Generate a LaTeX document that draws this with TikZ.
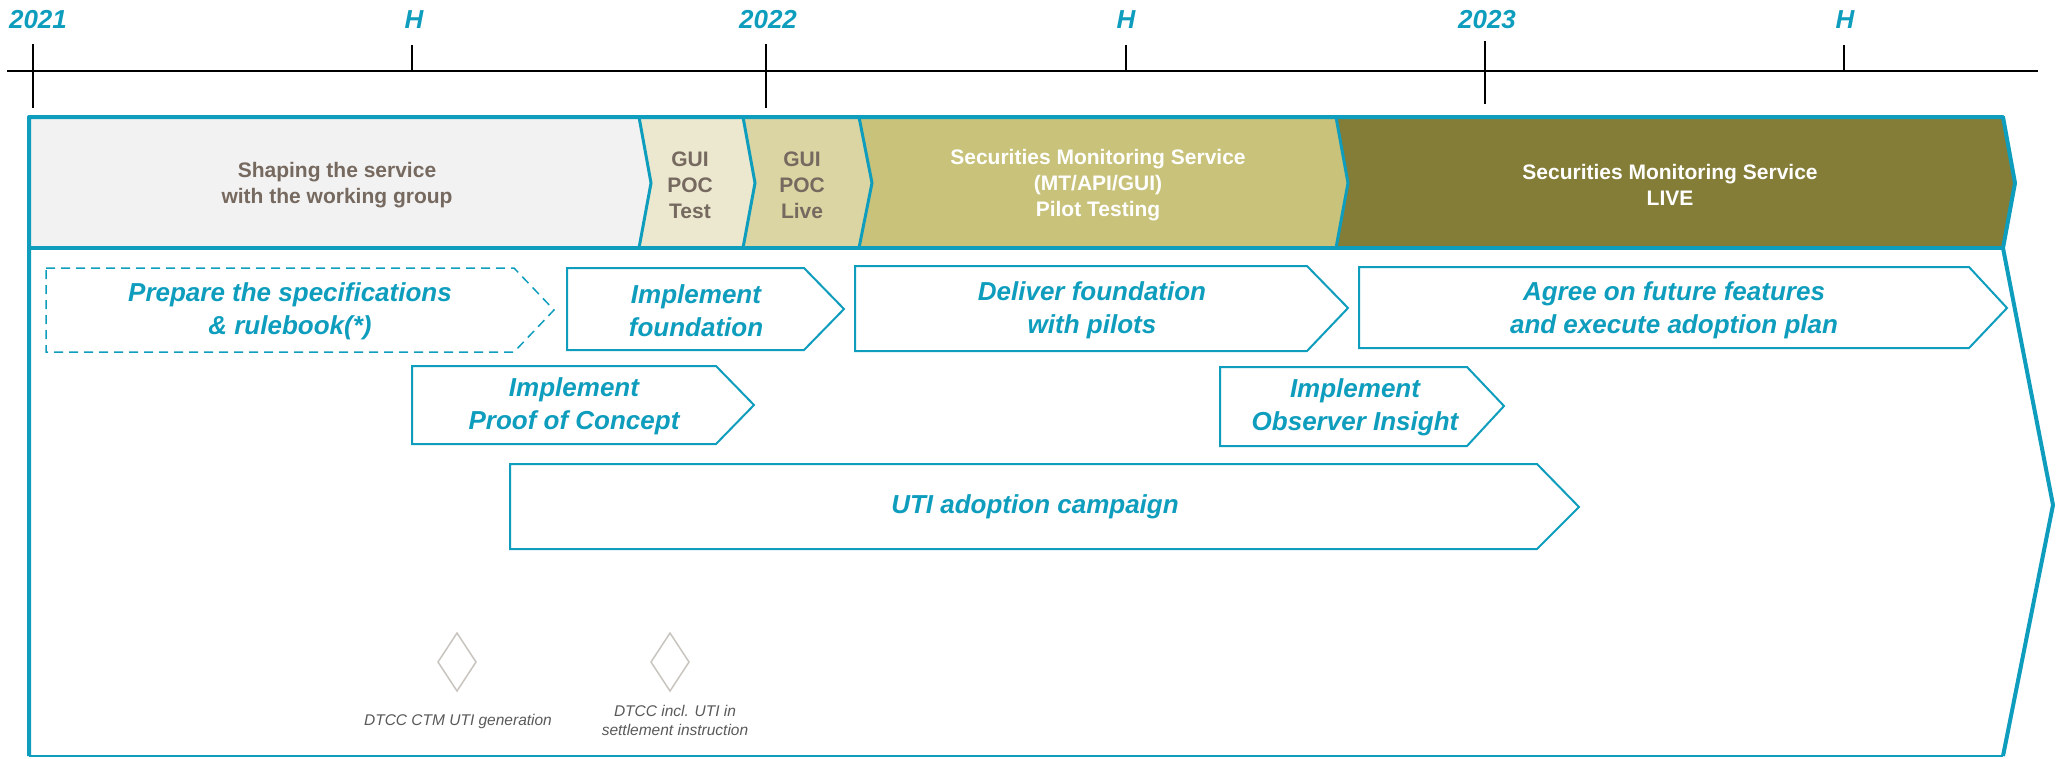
\documentclass[tikz,border=0pt]{standalone}
\usepackage{fontspec}
\setmainfont{Liberation Sans}
\definecolor{tealc}{HTML}{0E9DBD}
\definecolor{seggray}{HTML}{F2F2F2}
\definecolor{segA}{HTML}{EBE8CF}
\definecolor{segB}{HTML}{DBD5A3}
\definecolor{segC}{HTML}{C8C27A}
\definecolor{segD}{HTML}{847D37}
\definecolor{txtgray}{HTML}{76695F}
\definecolor{dgray}{HTML}{595959}
\definecolor{diagray}{HTML}{C8C4BF}
\begin{document}
\begin{tikzpicture}[x=1pt,y=-1pt,
 yearlbl/.style={font=\fontsize{26}{30}\selectfont\bfseries\itshape, text=tealc, inner sep=0},
 bandtxt/.style={font=\fontsize{21}{26}\selectfont\bfseries, align=center, inner sep=0},
 arrowtxt/.style={font=\fontsize{26}{33}\selectfont\bfseries\itshape, text=tealc, align=center, inner sep=0},
 arrowbox/.style={draw=tealc, line width=2pt, fill=white, line join=miter},
 segdiv/.style={draw=tealc, line width=3pt},
 tickline/.style={draw=black, line width=1.3pt},
 smalltxt/.style={font=\fontsize{15.5}{19}\selectfont\itshape, text=dgray, align=center, inner sep=0},
 milestone/.style={draw=diagray, line width=1.5pt},
 ]
\useasboundingbox (0,0) rectangle (2060,758);

% timeline
\draw[line width=2pt] (7,71) -- (2038,71);
\draw[tickline] (33,44) -- (33,108);
\draw[tickline] (412,45) -- (412,71);
\draw[tickline] (766,44) -- (766,108);
\draw[tickline] (1126,45) -- (1126,71);
\draw[tickline] (1485,41) -- (1485,104);
\draw[tickline] (1844,45) -- (1844,71);
\node[yearlbl] (y21) at (38,20) {2021};
\node[yearlbl] (h21) at (414,20) {H};
\node[yearlbl] (y22) at (768,20) {2022};
\node[yearlbl] (h22) at (1126,20) {H};
\node[yearlbl] (y23) at (1487,20) {2023};
\node[yearlbl] (h23) at (1845,20) {H};

% band segments
\fill[seggray] (29,117) -- (639,117) -- (651,183) -- (639,248) -- (29,248) -- cycle;
\fill[segA] (639,117) -- (743,117) -- (755,183) -- (743,248) -- (639,248) -- (651,183) -- cycle;
\fill[segB] (743,117) -- (859,117) -- (872,183) -- (859,248) -- (743,248) -- (755,183) -- cycle;
\fill[segC] (859,117) -- (1336,117) -- (1348,183) -- (1336,248) -- (859,248) -- (872,183) -- cycle;
\fill[segD] (1336,117) -- (2003,117) -- (2015,183) -- (2003,248) -- (1336,248) -- (1348,183) -- cycle;
\draw[segdiv] (639,117) -- (651,183) -- (639,248);
\draw[segdiv] (743,117) -- (755,183) -- (743,248);
\draw[segdiv] (859,117) -- (872,183) -- (859,248);
\draw[segdiv] (1336,117) -- (1348,183) -- (1336,248);

% outer frame
\draw[tealc, line width=4pt, line join=round] (29,756) -- (29,117) -- (2003,117) -- (2015,183) -- (2003,248) -- (2053,505) -- (2003,756);
\draw[tealc, line width=2pt] (29,756) -- (2003,756);
\draw[tealc, line width=4pt] (29,248) -- (2003,248);

\node[bandtxt, text=txtgray] (shape) at (337,185) {Shaping the service\\with the working group};
\node[bandtxt, text=txtgray] (guitest) at (690,185) {GUI\\POC\\Test};
\node[bandtxt, text=txtgray] (guilive) at (802,185) {GUI\\POC\\Live};
\node[bandtxt, text=white] (pilot) at (1098,185) {Securities Monitoring Service\\(MT/API/GUI)\\Pilot Testing};
\node[bandtxt, text=white] (live) at (1670,185) {Securities Monitoring Service\\LIVE};

% activity arrows
\draw[draw=tealc, line width=1.5pt, dash pattern=on 9pt off 6pt] (46,268) -- (514,268) -- (554,310) -- (514,352) -- (46,352) -- cycle;
\draw[arrowbox] (567,268) -- (804,268) -- (844,309) -- (804,350) -- (567,350) -- cycle;
\draw[arrowbox] (412,366) -- (716,366) -- (754,405) -- (716,444) -- (412,444) -- cycle;
\draw[arrowbox] (510,464) -- (1537,464) -- (1579,507) -- (1537,549) -- (510,549) -- cycle;
\draw[arrowbox] (855,266) -- (1307,266) -- (1348,308) -- (1307,351) -- (855,351) -- cycle;
\draw[arrowbox] (1359,267) -- (1969,267) -- (2007,308) -- (1969,348) -- (1359,348) -- cycle;
\draw[arrowbox] (1220,367) -- (1467,367) -- (1504,406) -- (1467,446) -- (1220,446) -- cycle;

\node[arrowtxt] (prep) at (290,311) {Prepare the specifications\\\& rulebook(*)};
\node[arrowtxt] (found) at (696,311) {Implement\\foundation};
\node[arrowtxt] (poc) at (574,406) {Implement\\Proof of Concept};
\node[arrowtxt] (uti) at (1035,507) {UTI adoption campaign};
\node[arrowtxt] (deliver) at (1092,310) {Deliver foundation\\with pilots};
\node[arrowtxt] (agree) at (1674,310) {Agree on future features\\and execute adoption plan};
\node[arrowtxt] (observer) at (1355,407) {Implement\\Observer Insight};

% milestones
\draw[milestone] (457,633) -- (476,662) -- (457,691) -- (438,662) -- cycle;
\draw[milestone] (670,633) -- (689,662) -- (670,691) -- (651,662) -- cycle;
\node[smalltxt] (m1) at (458,721) {DTCC CTM UTI generation};
\node[smalltxt] (m2) at (675,720) {DTCC incl. UTI in\\settlement instruction};
\end{tikzpicture}
\end{document}
